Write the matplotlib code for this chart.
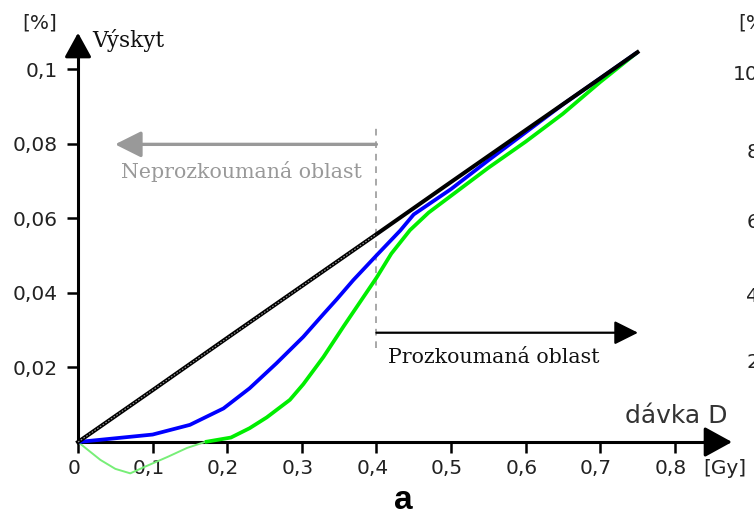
import numpy as np
import matplotlib
matplotlib.use("Agg")
import matplotlib.pyplot as plt
from matplotlib.transforms import ScaledTranslation

# ---------------- data ----------------
black_x = [0.0, 0.1, 0.2, 0.3, 0.4, 0.5, 0.6, 0.7, 0.75]
black_y = [0.0, 0.0139, 0.0279, 0.0418, 0.0557, 0.0697, 0.0836, 0.0975, 0.1045]

blue_x = [0.0, 0.05, 0.1, 0.15, 0.195, 0.23, 0.266, 0.302, 0.329, 0.347, 0.369,
          0.40, 0.432, 0.45, 0.5, 0.55, 0.6, 0.65, 0.7, 0.75]
blue_y = [0.0, 0.001, 0.002, 0.0046, 0.009, 0.0144, 0.0211, 0.0282, 0.0343,
          0.0383, 0.0434, 0.050, 0.0567, 0.061, 0.0678, 0.0755, 0.083, 0.0905,
          0.0975, 0.1045]

green_dip_x = [0.0, 0.03, 0.05, 0.07, 0.09, 0.12, 0.146, 0.17]
green_dip_y = [0.0, -0.0048, -0.0072, -0.0084, -0.0066, -0.004, -0.0016, 0.0]

green_x = [0.17, 0.205, 0.23, 0.253, 0.284, 0.302, 0.329, 0.356, 0.378, 0.40,
           0.42, 0.445, 0.47, 0.5, 0.55, 0.6, 0.65, 0.7, 0.75]
green_y = [0.0, 0.0012, 0.0037, 0.0066, 0.0113, 0.0155, 0.0228, 0.0310, 0.0375,
           0.0440, 0.0505, 0.0568, 0.0615, 0.0660, 0.0735, 0.0805, 0.0880,
           0.0965, 0.1045]

x_ticks = [0, 0.1, 0.2, 0.3, 0.4, 0.5, 0.6, 0.7, 0.8]
x_tick_labels = ["0", "0,1", "0,2", "0,3", "0,4", "0,5", "0,6", "0,7", "0,8"]
y_ticks = [0.02, 0.04, 0.06, 0.08, 0.1]
y_tick_labels = ["0,02", "0,04", "0,06", "0,08", "0,1"]

boundary_dose = 0.4
unexplored_arrow_end = 0.0496
explored_arrow_end = 0.7507
unexplored_level = 0.0798
explored_level = 0.0293

neighbour_labels = ["[%]", "100", "80", "60", "40", "20"]

# ---------------- figure ----------------
W, H = 754, 514
fig = plt.figure(figsize=(W / 100, H / 100), dpi=100)
ax = fig.add_axes([0, 0, 1, 1])
ax.set_xlim(-0.1046, 0.9062)
ax.set_ylim(-0.0193, 0.1185)
ax.patch.set_visible(False)

for s in ("top", "right"):
    ax.spines[s].set_visible(False)
ax.spines["left"].set_position(("data", 0))
ax.spines["bottom"].set_position(("data", 0))
ax.spines["left"].set_bounds(0, 0.1050)
ax.spines["bottom"].set_bounds(0, 0.850)
for s in ("left", "bottom"):
    ax.spines[s].set_linewidth(2.2)
    ax.spines[s].set_color("black")

ax.set_xticks(x_ticks)
ax.set_xticklabels(x_tick_labels)
ax.set_yticks(y_ticks)
ax.set_yticklabels(y_tick_labels)
ax.tick_params(axis="both", direction="out", length=8, width=1.8,
               labelsize=14.5, labelcolor="#222222", color="black")
ax.tick_params(axis="y", pad=6.5)
ax.tick_params(axis="x", pad=4.5)
for lab in ax.get_xticklabels():
    lab.set_fontfamily("DejaVu Sans")
    lab.set_transform(lab.get_transform() +
                      ScaledTranslation(-4 / 100, 0, fig.dpi_scale_trans))
for lab in ax.get_yticklabels():
    lab.set_fontfamily("DejaVu Sans")

# axis arrowheads
ax.annotate("", xy=(0.8767, 0), xytext=(0.84, 0),
            arrowprops=dict(arrowstyle="-|>,head_length=1.0,head_width=0.55",
                            mutation_scale=17, color="black", lw=2.2,
                            shrinkA=0, shrinkB=0))
ax.annotate("", xy=(0, 0.1097), xytext=(0, 0.104),
            arrowprops=dict(arrowstyle="-|>,head_length=1.0,head_width=0.55",
                            mutation_scale=15, color="black", lw=2.2,
                            shrinkA=0, shrinkB=0))

# curves
ax.plot(green_dip_x, green_dip_y, color="#77ee77", lw=1.4, zorder=3)
ax.plot(green_x, green_y, color="#00ee00", lw=2.7, zorder=4,
        solid_capstyle="butt", solid_joinstyle="round")
ax.plot(blue_x, blue_y, color="#0000ff", lw=2.7, zorder=5,
        solid_capstyle="butt", solid_joinstyle="round")
ax.plot(black_x, black_y, color="black", lw=2.9, zorder=6)
bx = [0.0, boundary_dose]
by = list(np.interp(bx, black_x, black_y))
ax.plot(bx, by, color="#9a9a9a", lw=0.8, ls=(0, (1.5, 1.5)), zorder=7)

# boundary line
ax.plot([boundary_dose, boundary_dose], [0.0252, 0.085], color="#999999",
        lw=1.2, ls=(0, (4, 3.5)), zorder=2)

# region arrows
ax.annotate("", xy=(unexplored_arrow_end, unexplored_level),
            xytext=(boundary_dose, unexplored_level),
            arrowprops=dict(arrowstyle="-|>,head_length=1.0,head_width=0.5",
                            mutation_scale=16, color="#999999", lw=2.4,
                            shrinkA=0, shrinkB=0))
ax.annotate("", xy=(explored_arrow_end, explored_level),
            xytext=(boundary_dose, explored_level),
            arrowprops=dict(arrowstyle="-|>,head_length=1.0,head_width=0.5",
                            mutation_scale=14.5, color="black", lw=1.6,
                            shrinkA=0, shrinkB=0))

def fp(x, y):
    return (x, H - y)

ax.annotate("Neprozkoumaná oblast", xy=fp(241, 178), xycoords="figure pixels",
            ha="center", va="baseline", fontsize=14.8, color="#999999",
            family="DejaVu Serif")
ax.annotate("Prozkoumaná oblast", xy=fp(388, 363), xycoords="figure pixels",
            ha="left", va="baseline", fontsize=14.8, color="#111111",
            family="DejaVu Serif")
ax.annotate("Výskyt", xy=fp(92, 47), xycoords="figure pixels",
            ha="left", va="baseline", fontsize=15.5, color="#111111",
            family="DejaVu Serif")
ax.annotate("[%]", xy=fp(40, 23), xycoords="figure pixels",
            ha="center", va="center", fontsize=14.5, color="#222222",
            family="DejaVu Sans")
ax.annotate("dávka D", xy=fp(625, 423), xycoords="figure pixels",
            ha="left", va="baseline", fontsize=18, color="#333333",
            family="DejaVu Sans")
ax.annotate("[Gy]", xy=fp(703, 469), xycoords="figure pixels",
            ha="left", va="center", fontsize=14.5, color="#222222",
            family="DejaVu Sans")
ax.annotate("a", xy=fp(403, 509), xycoords="figure pixels",
            ha="center", va="baseline", fontsize=24, color="black",
            family="Liberation Sans", weight="bold")

# cut-off labels of the neighbouring chart
nb_pos = [(738, 23), (733, 74), (747, 153), (747, 223), (746, 296), (746, 363)]
for txt, (px, py) in zip(neighbour_labels, nb_pos):
    ax.annotate(txt, xy=fp(px, py), xycoords="figure pixels", ha="left",
                va="center", fontsize=14.5, color="#222222",
                family="DejaVu Sans", annotation_clip=False)

fig.savefig("out.png", dpi=100)
